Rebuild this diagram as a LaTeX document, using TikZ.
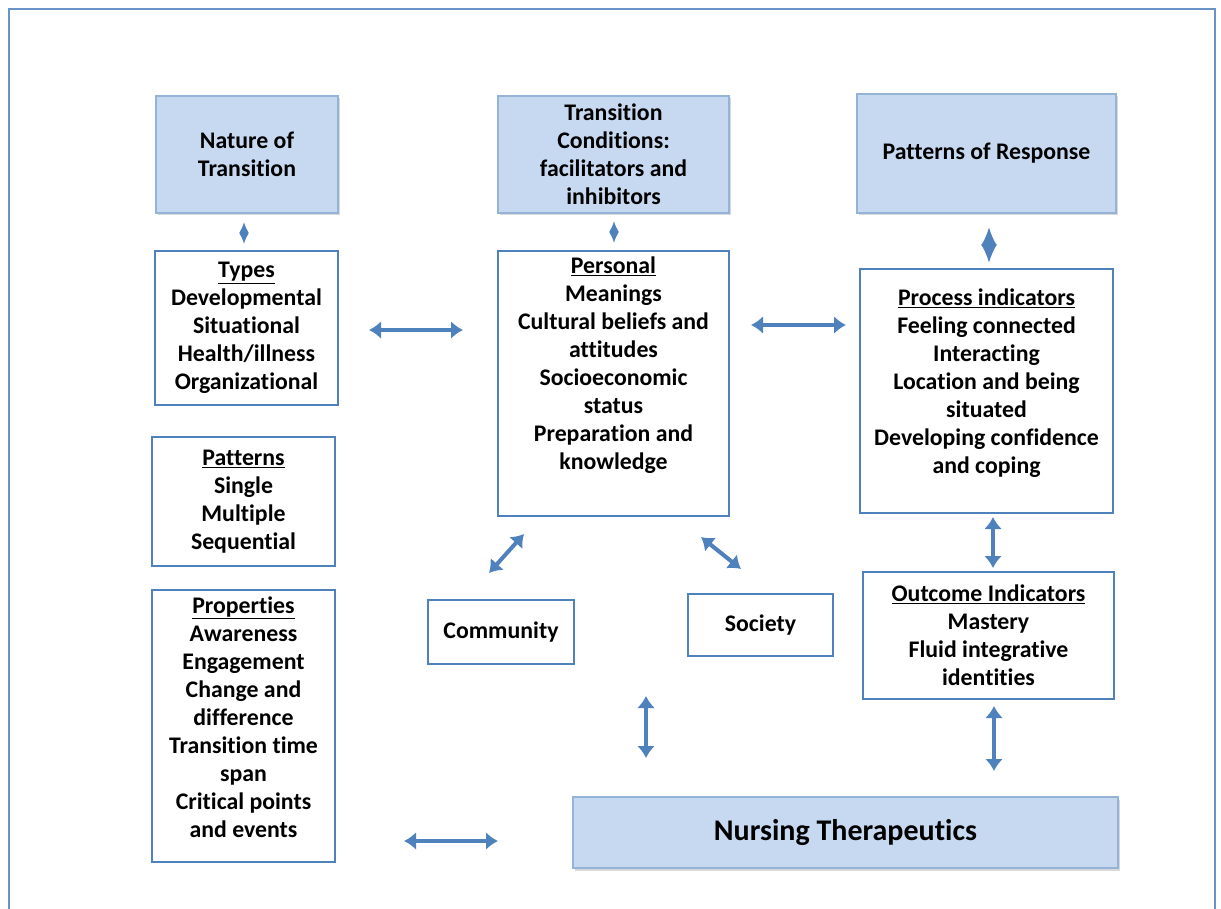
\documentclass[tikz,border=0pt]{standalone}
\usepackage{fontspec}
\setmainfont{Carlito}[Ligatures=NoCommon]
\usepackage{tikz}
\usetikzlibrary{shapes,arrows,arrows.meta}
\usetikzlibrary{calc,positioning,shadows}
\definecolor{framebl}{HTML}{4F81BD}
\definecolor{fillbl}{HTML}{C6D9F1}
\definecolor{edgebl}{HTML}{95B3D7}
\tikzstyle{txt} = [align=center, inner sep=0pt, font=\fontsize{23.8}{28}\selectfont\bfseries]
\tikzstyle{box} = [txt, draw=framebl, line width=2.2pt, fill=white]
\tikzstyle{head} = [txt, draw=edgebl, line width=1.5pt, fill=fillbl, drop shadow={shadow xshift=1.5pt, shadow yshift=-2.5pt, opacity=.3, fill=gray}]
\tikzstyle{line} = [draw=framebl, line width=4pt, {Latex[length=12pt,width=18pt]}-{Latex[length=12pt,width=18pt]}]
\tikzstyle{tiny} = [draw=framebl, line width=2pt, {Latex[length=11pt,width=10pt]}-{Latex[length=11pt,width=10pt]}]

\begin{document}
\begin{tikzpicture} [x=1pt, y=-1pt]

        \useasboundingbox (0,0) rectangle (1221,909);
        \draw[framebl!85, line width=2pt] (9,909) |- (1215,9) -- (1215,909);

        \node[head, minimum width=182pt, minimum height=117pt] (NT) at (247,154.5) {Nature of\\Transition};
        \node[head, minimum width=231pt, minimum height=117pt] (TC) at (613.5,154.5) {Transition\\Conditions:\\facilitators and\\inhibitors};
        \node[head, minimum width=259pt, minimum height=119pt] (PR) at (986.5,153.5) {Patterns of Response};

        \node[box, minimum width=183pt, minimum height=154pt] (types) at (246.5,328) {\underline{Types}\\Developmental\\Situational\\Health/illness\\Organizational};
        \node[box, minimum width=231pt, minimum height=265pt] (personal) at (613.5,383.5) {};
        \node[txt] (personaltxt) at (613.5,365) {\underline{Personal}\\Meanings\\Cultural beliefs and\\attitudes\\Socioeconomic\\status\\Preparation and\\knowledge};
        \node[box, minimum width=253pt, minimum height=244pt] (process) at (986.5,391) {};
        \node[txt] (processtxt) at (986.5,383) {\underline{Process indicators}\\Feeling connected\\Interacting\\Location and being\\situated\\Developing confidence\\and coping};

        \node[box, minimum width=183pt, minimum height=129pt] (patterns) at (243.5,501.5) {\underline{Patterns}\\Single\\Multiple\\Sequential};
        \node[box, minimum width=183pt, minimum height=272pt] (props) at (243.5,726) {};
        \node[txt] (propstxt) at (243.5,717) {\underline{Properties}\\Awareness\\Engagement\\Change and\\difference\\Transition time\\span\\Critical points\\and events};

        \node[box, minimum width=251pt, minimum height=127pt] (outcome) at (988.5,635.5) {\underline{Outcome Indicators}\\Mastery\\Fluid integrative\\identities};
        \node[box, minimum width=146pt, minimum height=64pt] (community) at (501,632) {Community};
        \node[box, minimum width=145pt, minimum height=62pt] (society) at (760.5,625) {Society};
        \node[head, minimum width=545pt, minimum height=71pt, font=\fontsize{30}{32}\selectfont\bfseries] (NTh) at (845.5,832.5) {Nursing Therapeutics};

        % arrow ends
        \coordinate (a1) at (244,222);   \coordinate (b1) at (244,244);
        \coordinate (a2) at (614,221);   \coordinate (b2) at (614,243);
        \coordinate (a3) at (989,227);   \coordinate (b3) at (989,263);
        \coordinate (a4) at (369,330);   \coordinate (b4) at (463,330);
        \coordinate (a5) at (751,325);   \coordinate (b5) at (846,325);
        \coordinate (a6) at (524,534);   \coordinate (b6) at (489,573);
        \coordinate (a7) at (701,537);   \coordinate (b7) at (741,569);
        \coordinate (a8) at (993,517);   \coordinate (b8) at (993,568);
        \coordinate (a9) at (646,696);   \coordinate (b9) at (646,758);
        \coordinate (a10) at (994,706);  \coordinate (b10) at (994,771);
        \coordinate (a11) at (404,841);  \coordinate (b11) at (498,841);

        \draw [tiny] (a1) -- (b1);
        \draw [tiny] (a2) -- (b2);
        \draw [tiny, line width=2.5pt, {Latex[length=18.5pt,width=16pt]}-{Latex[length=18.5pt,width=16pt]}] (a3) -- (b3);
        \foreach \i in {4,...,11}
            \draw [line] (a\i) -- (b\i);

        \end{tikzpicture}
\end{document}
